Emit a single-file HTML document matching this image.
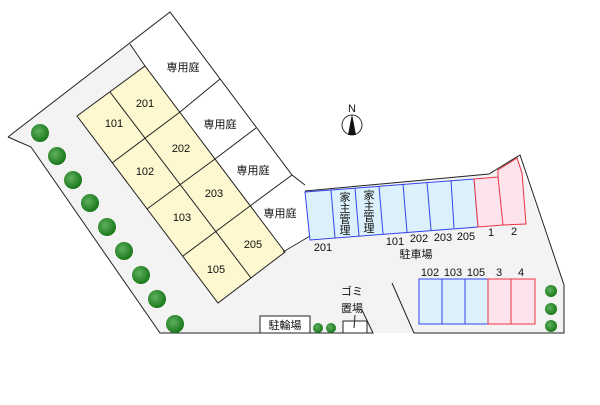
<!DOCTYPE html>
<html><head><meta charset="utf-8"><style>
html,body{margin:0;padding:0;background:#fff;}
svg text{font-family:"Liberation Sans","Noto Sans CJK JP",sans-serif;font-size:11px;fill:#111;}
</style></head><body>
<svg width="600" height="400" viewBox="0 0 600 400" xmlns="http://www.w3.org/2000/svg">
<defs>
<radialGradient id="tg" cx="0.4" cy="0.4" r="0.7"><stop offset="0" stop-color="#5fb05f"/><stop offset="1" stop-color="#0f700f"/></radialGradient>
</defs>
<polygon points="8,137 170,12 292,175 305,191 489,174 517,155 564,285 564,333 160,333 31,147" fill="#f3f3f3"/>
<polygon points="130,44 170,12 292,175 305,190 310,238 283,252 145,66" fill="#fff"/>
<polygon points="77,116 145,66 285,252 218,303" fill="#fdf8cf" stroke="#222" stroke-width="1"/>
<g stroke="#222" stroke-width="1" fill="none">
<line x1="110" y1="92" x2="251" y2="278"/>
<line x1="112" y1="163" x2="180" y2="112"/>
<line x1="147" y1="209" x2="215" y2="159"/>
<line x1="183" y1="256" x2="250" y2="206"/>
<line x1="130" y1="44" x2="145" y2="66"/>
<line x1="180" y1="112" x2="220" y2="79"/>
<line x1="215" y1="159" x2="256" y2="128"/>
<line x1="250" y1="206" x2="292" y2="175"/>
<line x1="283" y1="252" x2="310" y2="236"/>
<polyline points="8,137 170,12 292,175 305,185"/>
<polyline points="8,137 31,147 160,333 373,333 362,310"/>
<polyline points="392,283 414,333 564,333 564,285 520,155 489,174 305,191"/>
</g>
<polygon points="305,192 474,179 478,227 310,240" fill="#dcf1fb" stroke="#3344ee" stroke-width="1"/>
<g stroke="#3344ee" stroke-width="1">
<line x1="331" y1="190" x2="335" y2="238"/>
<line x1="355" y1="188" x2="359" y2="236"/>
<line x1="379" y1="186" x2="383" y2="234"/>
<line x1="403" y1="184" x2="407" y2="232"/>
<line x1="427" y1="182" x2="431" y2="230"/>
<line x1="451" y1="180" x2="454" y2="228"/>
</g>
<polygon points="474,179 498,177 498,170 517,158 522,173 526,224 503,225 478,227" fill="#fde3ec" stroke="#ee3344" stroke-width="1"/>
<line x1="498" y1="177" x2="503" y2="225" stroke="#ee3344"/>
<rect x="419" y="279" width="69" height="45" fill="#dcf1fb" stroke="#3344ee"/>
<line x1="442" y1="279" x2="442" y2="324" stroke="#3344ee"/>
<line x1="465" y1="279" x2="465" y2="324" stroke="#3344ee"/>
<rect x="488" y="279" width="47" height="45" fill="#fde3ec" stroke="#ee3344"/>
<line x1="511" y1="279" x2="511" y2="324" stroke="#ee3344"/>
<rect x="260" y="316" width="50" height="17" fill="#fff" stroke="#222"/>
<text x="285" y="329" text-anchor="middle">駐輪場</text>
<rect x="343" y="321" width="24" height="12" fill="#fff" stroke="#222"/>
<line x1="355" y1="315" x2="354" y2="328" stroke="#222"/>
<text x="352" y="295" text-anchor="middle">ゴミ</text>
<text x="352" y="312" text-anchor="middle">置場</text>
<g fill="url(#tg)">
<circle cx="40" cy="133" r="9"/><circle cx="57" cy="156" r="9"/><circle cx="73" cy="180" r="9"/>
<circle cx="90" cy="203" r="9"/><circle cx="107" cy="227" r="9"/><circle cx="124" cy="251" r="9"/>
<circle cx="141" cy="275" r="9"/><circle cx="157" cy="299" r="9"/><circle cx="175" cy="324" r="9"/>
<circle cx="318" cy="328" r="5"/><circle cx="331" cy="328" r="5"/>
<circle cx="551" cy="291" r="6"/><circle cx="551" cy="309" r="6"/><circle cx="551" cy="326" r="6"/>
</g>
<circle cx="352" cy="125" r="10" fill="#fff" stroke="#333"/>
<polygon points="352,114 348,135 356,135" fill="#111"/>
<text x="352" y="112" text-anchor="middle" font-size="10">N</text>
<g text-anchor="middle">
<text x="145" y="107">201</text><text x="114" y="127">101</text>
<text x="181" y="152">202</text><text x="145" y="175">102</text>
<text x="214" y="197">203</text><text x="182" y="221">103</text>
<text x="253" y="248">205</text><text x="216" y="273">105</text>
<text x="183" y="71">専用庭</text><text x="220" y="128">専用庭</text>
<text x="253" y="174">専用庭</text><text x="280" y="217">専用庭</text>
<text x="323" y="251">201</text><text x="395" y="245">101</text>
<text x="419" y="242">202</text><text x="443" y="241">203</text>
<text x="466" y="240">205</text><text x="491" y="236">1</text><text x="514" y="235">2</text>
<text x="416" y="258">駐車場</text>
<text x="430" y="276">102</text><text x="453" y="276">103</text><text x="476" y="276">105</text>
<text x="499" y="276">3</text><text x="521" y="276">4</text>
</g>
<g text-anchor="middle" style="font-size:10px">
<text x="345" y="201" font-size="10">家</text><text x="345" y="212" font-size="10">主</text><text x="345" y="223" font-size="10">管</text><text x="345" y="234" font-size="10">理</text>
<text x="369" y="199" font-size="10">家</text><text x="369" y="210" font-size="10">主</text><text x="369" y="221" font-size="10">管</text><text x="369" y="232" font-size="10">理</text>
</g>
</svg>
</body></html>
